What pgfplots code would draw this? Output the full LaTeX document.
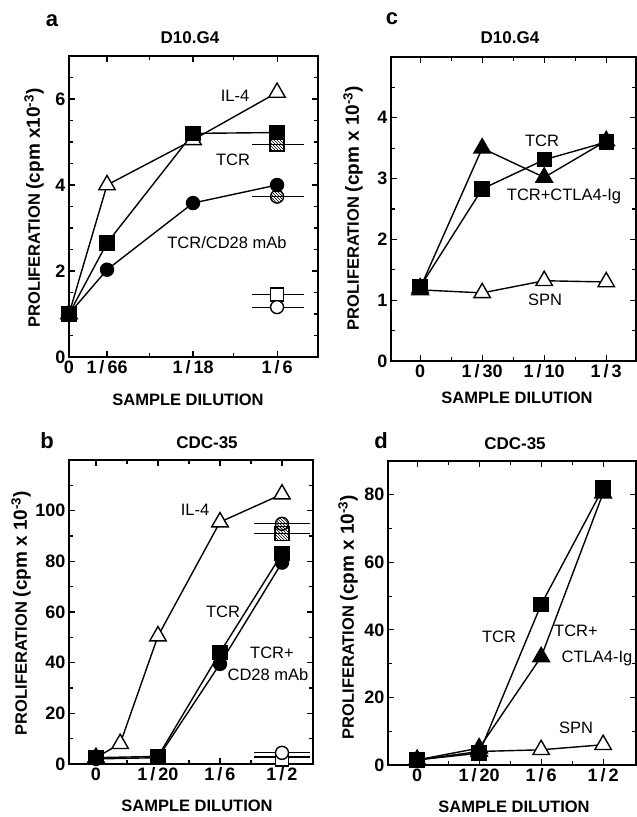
\documentclass[border=0pt]{standalone}
\usepackage{pgfplots}
\pgfplotsset{compat=1.18}
\usepackage{fontspec}
\setmainfont{Liberation Sans}
\usetikzlibrary{patterns}

\pgfplotsset{
  myax/.style={
    scale only axis, clip=false,
    axis line style={line width=1.3pt},
    every tick/.style={black, line width=1.1pt},
    major tick length=6pt, minor tick length=4pt,
    tick align=inside,
    tick label style={font=\bfseries\fontsize{18}{18}\selectfont},
    every axis plot/.append style={line width=1.4pt, black},
  },
  fsq/.style={mark=square*, mark size=7pt, mark options={fill=black, solid}},
  fci/.style={mark=*, mark size=6.5pt, mark options={fill=black, solid}},
  otr/.style={mark=triangle*, mark size=9.5pt, mark options={fill=white, solid}},
  ftr/.style={mark=triangle*, mark size=9.5pt, mark options={fill=black, solid}},
  osq/.style={mark=square*, mark size=6.5pt, mark options={fill=white, solid}},
  oci/.style={mark=*, mark size=6.5pt, mark options={fill=white, solid}},
  hsq/.style={mark=square*, mark size=7pt, mark options={pattern=north west lines, solid}},
  hci/.style={mark=*, mark size=6.5pt, mark options={pattern=north west lines, solid}},
}

\newcommand{\lab}{\bfseries\fontsize{16.5}{16.5}\selectfont}
\newcommand{\cpm}[1]{{\fontsize{19}{19}\selectfont (cpm x#110\textsuperscript{-3})}}
\newcommand{\txt}{\fontsize{16.5}{16.5}\selectfont}
\newcommand{\slh}{\,/\,}

\begin{document}
\begin{tikzpicture}[x=1pt,y=1pt]
\useasboundingbox (0pt,0pt) rectangle (637pt,817pt);

% ---------------- panel a ----------------
\begin{axis}[myax, at={(69pt,460pt)}, anchor=south west, width=249pt, height=301pt,
  xmin=0, xmax=2.895, ymin=0, ymax=7,
  xtick={0,0.442,1.442,2.419}, xticklabels={0,1\slh 66,1\slh 18,1\slh 6},
  minor xtick={0.94,1.91},
  ytick={0,2,4,6}, yticklabels={0,2,4,6},
  minor ytick={0.5,1,...,7}]
\addplot[otr] coordinates {(0,1.0) (0.442,4.0) (1.442,5.05) (2.419,6.15)};
\addplot[fci] coordinates {(0,1.0) (0.442,2.03) (1.442,3.58) (2.419,4.0)};
\addplot[fsq] coordinates {(0,1.0) (0.442,2.65) (1.442,5.2) (2.419,5.22)};
\addplot[line width=1.2pt] coordinates {(2.128,4.95) (2.733,4.95)};
\addplot[line width=1.2pt] coordinates {(2.128,3.73) (2.733,3.73)};
\addplot[line width=1.2pt] coordinates {(2.128,1.45) (2.733,1.45)};
\addplot[line width=1.2pt] coordinates {(2.128,1.16) (2.733,1.16)};
\addplot[only marks, hsq] coordinates {(2.419,4.95)};
\addplot[only marks, hci] coordinates {(2.419,3.73)};
\addplot[only marks, osq] coordinates {(2.419,1.45)};
\addplot[only marks, oci] coordinates {(2.419,1.16)};
\end{axis}
\node[font=\bfseries\fontsize{22}{22}\selectfont] at (52pt,796pt) {a};
\node[font=\bfseries\fontsize{17}{17}\selectfont] at (190pt,779pt) {D10.G4};
\node[font=\lab, rotate=90] at (34pt,609pt) {PROLIFERATION \cpm{}};
\node[font=\lab] at (188pt,417pt) {SAMPLE DILUTION};
\node[font=\txt] at (235pt,721pt) {IL-4};
\node[font=\txt] at (233pt,657pt) {TCR};
\node[font=\txt] at (227pt,574pt) {TCR/CD28 mAb};

% ---------------- panel c ----------------
\begin{axis}[myax, at={(391pt,456pt)}, anchor=south west, width=245pt, height=304pt,
  xmin=-0.47, xmax=3.48, ymin=0, ymax=5,
  xtick={0,1,2,3}, xticklabels={0,1\slh 30,1\slh 10,1\slh 3},
  minor xtick={0.5,1.5,2.5},
  ytick={0,1,2,3,4}, yticklabels={0,1,2,3,4},
  minor ytick={0.5,1.5,...,4.5}]
\addplot[otr] coordinates {(0,1.17) (1,1.12) (2,1.32) (3,1.3)};
\addplot[ftr] coordinates {(0,1.2) (1,3.5) (2,3.02) (3,3.62)};
\addplot[fsq] coordinates {(0,1.22) (1,2.83) (2,3.31) (3,3.6)};
\end{axis}
\node[font=\bfseries\fontsize{22}{22}\selectfont] at (392pt,798pt) {c};
\node[font=\bfseries\fontsize{17}{17}\selectfont] at (510pt,779pt) {D10.G4};
\node[font=\lab, rotate=90] at (353pt,609pt) {PROLIFERATION \cpm{ }};
\node[font=\lab] at (517pt,419pt) {SAMPLE DILUTION};
\node[font=\txt] at (542pt,676pt) {TCR};
\node[font=\txt] at (564pt,621pt) {TCR+CTLA4-Ig};
\node[font=\txt] at (545pt,517pt) {SPN};

% ---------------- panel b ----------------
\begin{axis}[myax, at={(69pt,53pt)}, anchor=south west, width=244pt, height=304pt,
  xmin=-0.435, xmax=3.5, ymin=0, ymax=120,
  xtick={0,1,2,3}, xticklabels={0,1\slh 20,1\slh 6,1\slh 2},
  minor xtick={0.5,1.5,2.5},
  ytick={0,20,40,60,80,100}, yticklabels={0,20,40,60,80,100},
  minor ytick={10,30,...,110}]
\addplot[otr] coordinates {(0,2.5) (0.39,8) (1,50.5) (2,95.5) (3,106.5)};
\addplot[fci] coordinates {(0,2) (1,2.5) (2,39.5) (3,79.5)};
\addplot[fsq] coordinates {(0,2.5) (1,3) (2,44) (3,83)};
\addplot[line width=1.2pt] coordinates {(2.55,94.8) (3.45,94.8)};
\addplot[line width=1.2pt] coordinates {(2.55,90.9) (3.45,90.9)};
\addplot[line width=1.2pt] coordinates {(2.55,4.4) (3.45,4.4)};
\addplot[line width=1.2pt] coordinates {(2.55,2.8) (3.45,2.8)};
\addplot[only marks, hsq] coordinates {(3,90.9)};
\addplot[only marks, hci] coordinates {(3,94.8)};
\addplot[only marks, osq] coordinates {(3,1.8)};
\addplot[only marks, oci] coordinates {(3,4.4)};
\end{axis}
\node[font=\bfseries\fontsize{22}{22}\selectfont] at (47pt,376pt) {b};
\node[font=\bfseries\fontsize{17}{17}\selectfont] at (207pt,374pt) {CDC-35};
\node[font=\lab, rotate=90] at (21pt,204pt) {PROLIFERATION \cpm{ }};
\node[font=\lab] at (197pt,11pt) {SAMPLE DILUTION};
\node[font=\txt] at (195pt,307pt) {IL-4};
\node[font=\txt] at (223pt,205pt) {TCR};
\node[font=\txt] at (272pt,164pt) {TCR+};
\node[font=\txt] at (268pt,142pt) {CD28 mAb};

% ---------------- panel d ----------------
\begin{axis}[myax, at={(388pt,52pt)}, anchor=south west, width=248pt, height=304pt,
  xmin=-0.47, xmax=3.53, ymin=0, ymax=90,
  xtick={0,1,2,3}, xticklabels={0,1\slh 20,1\slh 6,1\slh 2},
  minor xtick={0.5,1.5,2.5},
  ytick={0,20,40,60,80}, yticklabels={0,20,40,60,80},
  minor ytick={10,30,...,90}]
\addplot[otr] coordinates {(0,1.5) (1,4) (2,4.5) (3,6)};
\addplot[ftr] coordinates {(0,1.5) (1,5) (2,32) (3,80.5)};
\addplot[fsq] coordinates {(0,1.5) (1,3.5) (2,47.5) (3,82)};
\end{axis}
\node[font=\bfseries\fontsize{22}{22}\selectfont] at (381pt,376pt) {d};
\node[font=\bfseries\fontsize{17}{17}\selectfont] at (515pt,373pt) {CDC-35};
\node[font=\lab, rotate=90] at (348pt,200pt) {PROLIFERATION \cpm{ }};
\node[font=\lab] at (514pt,10pt) {SAMPLE DILUTION};
\node[font=\txt] at (499pt,180pt) {TCR};
\node[font=\txt] at (576pt,186pt) {TCR+};
\node[font=\txt] at (597pt,159pt) {CTLA4-Ig};
\node[font=\txt] at (576pt,89pt) {SPN};
\end{tikzpicture}
\end{document}
